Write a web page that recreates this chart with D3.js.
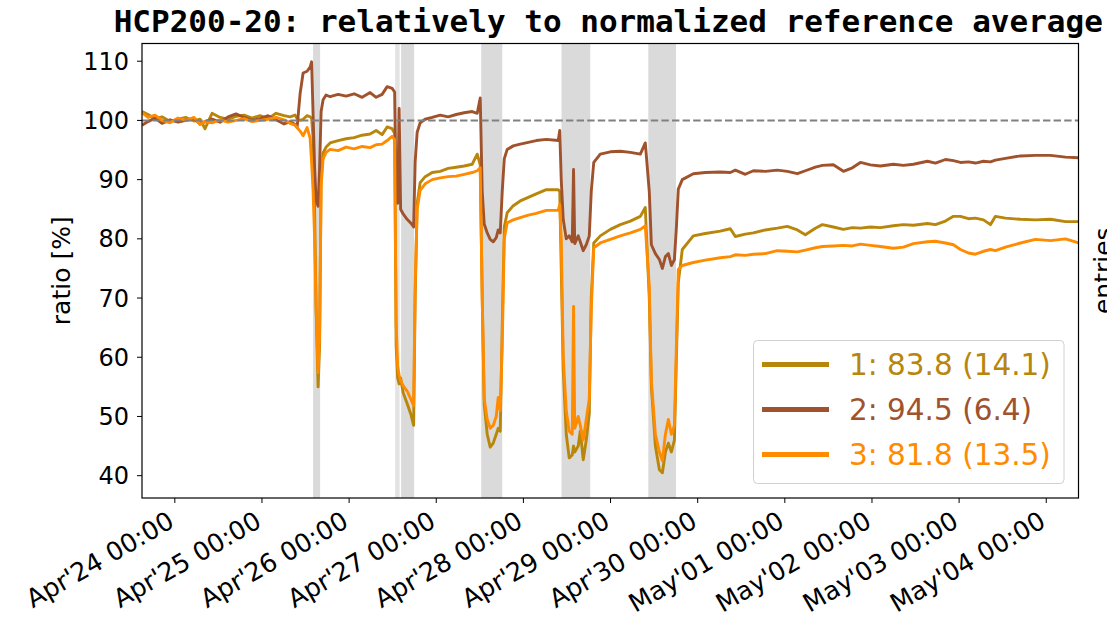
<!DOCTYPE html>
<html><head><meta charset="utf-8">
<script src="https://cdn.jsdelivr.net/npm/d3@7"></script>
<style>body{margin:0;background:#fff}svg{display:block}</style>
</head><body>
<svg id="c" width="1107" height="619"></svg>
<script>
// hours since Apr 24 00:00
const hours = [-9.04,-7.38,-5.46,-3.53,-1.32,0.88,3.09,5.29,6.94,8.32,10.25,12.46,14.66,16.86,19.07,21.27,23.48,25.68,27.89,30.09,31.74,33.12,
 33.67,34.50,35.33,36.43,37.26,37.67,38.08,38.50,38.91,39.46,39.87,40.29,40.84,41.66,
 42.77,44.97,47.18,49.38,51.58,53.79,55.44,57.09,58.47,59.85,
 60.54,60.95,61.37,61.78,62.19,62.88,63.98,65.09,65.77,66.19,66.74,67.57,
 68.95,70.88,73.08,75.29,77.49,79.70,81.90,83.28,84.11,
 84.66,85.21,86.04,86.86,87.69,88.52,89.07,89.62,90.17,90.73,91.54,
 93.21,95.13,97.34,99.54,102.30,105.60,106.01,
 106.42,106.97,107.80,108.62,109.45,109.81,110.14,111.10,111.66,112.48,113.31,114.14,114.69,115.38,
 117.17,119.95,122.70,125.46,128.21,129.57,
 130.67,131.25,132.35,133.45,134.28,135.11,135.93,136.76,137.59,138.14,138.66,
 139.76,142.79,146.10,150.23,152.99,154.37,157.12,159.33,162.63,165.94,168.70,171.45,173.66,176.41,178.34,181.37,184.13,186.61,188.81,191.57,194.32,197.91,200.66,203.42,207.28,209.48,212.23,214.44,216.37,218.57,220.50,222.71,224.63,226.01,228.77,232.90,237.04,241.17,245.30,248.88];

const series1 = [101.5,101.0,100.3,100.6,99.8,100.2,100.5,99.9,100.2,98.6,101.2,100.5,100.2,100.7,100.9,100.4,100.8,100.3,101.2,100.8,100.6,100.9,
 100.3,100.0,100.2,100.8,100.6,100.4,97,85,68,55,62,90,94.5,95.5,
 96.2,96.6,96.9,97.1,97.5,97.7,98.3,97.6,98.9,98.6,
 97.8,62,56.5,55.5,56.5,54,52.2,50.2,48.5,70,86,89.5,
 90.5,91.2,91.4,91.9,92.1,92.3,92.6,94.3,92.5,
 70,52,47,44.8,45.5,47,48,47.5,65,82,84.4,
 85.6,86.4,87.0,87.6,88.3,88.3,88.0,
 75,58,47,43,43.5,45,44,45,47.5,42.7,46,50.5,70,79.3,
 80.5,81.6,82.4,83.0,83.8,85.3,
 70,55,45,41,40.5,44,45.5,44,46,60,72.6,
 78.2,80.5,80.9,81.3,81.7,80.4,80.8,81.0,81.5,81.8,82.1,81.5,80.7,81.8,82.4,82.0,81.6,81.9,81.8,82.0,81.9,82.2,82.4,82.3,82.6,82.4,83.0,83.8,83.8,83.4,83.5,83.2,82.4,83.8,83.5,83.3,83.2,83.3,82.9,82.9];

const series2 = [99.2,99.8,100.4,99.5,100.1,99.7,100.0,100.3,99.4,99.8,100.2,99.7,100.6,101.1,100.5,100.0,100.3,100.8,100.1,99.4,99.8,99.3,
 98.8,104.5,108.0,108.3,109.0,109.9,101,92,86.5,85.5,92,101.5,103.5,104.3,
 104.0,104.4,104.1,104.5,103.9,104.7,103.9,104.4,105.7,105.4,
 104.8,87,86,102,85,84.2,83.3,82.6,82,93,98,99.6,
 100.2,100.5,100.9,100.6,101.0,101.3,101.5,101.2,103.8,
 88,82.5,81,79.9,79.5,80.2,81.5,81,88,93.5,95.1,
 95.7,96.0,96.3,96.6,96.8,96.6,98.3,
 90,83.3,80,80.5,79.5,91.7,79.2,80.5,79.5,78,79,80.5,88,92.9,
 94.3,94.7,94.8,94.6,94.3,96.2,
 88,79,77.5,76.5,75,77,77.5,75.5,76.5,82,88.4,
 90.0,91.0,91.2,91.3,91.2,91.6,90.9,91.5,91.4,91.6,91.4,91.0,91.5,92.1,92.4,92.5,91.4,92.0,92.9,92.5,92.3,92.6,92.4,92.6,93.1,92.8,93.4,93.2,92.9,93.0,92.8,93.1,93.0,93.3,93.6,94.0,94.1,94.1,93.8,93.7];

const series3 = [101.3,100.5,100.9,100.0,99.6,100.4,100.0,100.5,99.3,99.8,99.6,100.1,99.7,100.0,100.3,99.8,100.0,100.2,100.5,100.1,99.5,99.2,
 98.8,98.2,97.4,98.8,97.0,93,88,80,68.6,57.4,64,89,93.5,94.6,
 95.1,94.9,95.5,95.2,95.6,95.4,95.9,96.0,96.6,97.3,
 96.8,66,58.5,57,56,55.2,54.3,52.8,51.8,72,85,88.2,
 89.3,90.0,90.3,90.5,90.6,90.9,91.2,91.5,92.0,
 70,53,49.5,48,48.5,50,53.2,51,62,80,82.7,
 83.2,83.6,84.0,84.3,84.8,84.8,85.8,
 80,60,51,47.5,47,68.6,48,50,48.5,46,49.5,53,68,78.5,
 79.3,79.9,80.5,81.0,81.6,82.2,
 72,56,47,44,42.5,47,49.5,47,48.5,62,74.8,
 75.5,76.0,76.4,76.8,77.0,77.3,77.2,77.4,77.5,78.0,77.9,77.8,78.1,78.5,78.7,78.8,78.9,78.8,79.1,78.9,78.7,78.4,78.6,79.2,79.5,79.6,79.3,79.0,78.2,77.6,77.4,77.9,78.2,78.0,78.6,79.3,79.9,79.7,80.0,79.3];

const seriesNames = ["1: 83.8 (14.1)", "2: 94.5 (6.4)", "3: 81.8 (13.5)"];
const seriesColors = ["#b8860b", "#a0522d", "#ff8c00"];
// shaded intervals [start, end] hours since Apr 24 00:00
const bandStart = [38.08, 60.68, 62.33, 84.38, 106.50, 130.40];
const bandEnd   = [40.01, 61.92, 65.91, 90.17, 114.41, 138.02];
const yTicks = [40, 50, 60, 70, 80, 90, 100, 110];
const refLine = 100;

const T0 = Date.UTC(2018, 3, 24);
const toDate = h => new Date(T0 + h * 3600e3);

const svg = d3.select("#c");
const L = 142, R = 1078.5, T = 43.5, B = 498;
const x = d3.scaleUtc().domain([toDate(hours[0]), toDate(hours[hours.length - 1])]).range([L, R]);
const y = d3.scaleLinear().domain([36.23, 112.99]).range([B, T]);

svg.append("defs").append("clipPath").attr("id", "pa")
  .append("rect").attr("x", L).attr("y", T).attr("width", R - L).attr("height", B - T);

const g = svg.append("g").attr("clip-path", "url(#pa)");
// bands
g.selectAll("rect.band").data(bandStart.map((s, i) => [s, bandEnd[i]])).join("rect")
  .attr("class", "band")
  .attr("x", d => x(toDate(d[0]))).attr("width", d => x(toDate(d[1])) - x(toDate(d[0])))
  .attr("y", T).attr("height", B - T)
  .attr("fill", "#808080").attr("opacity", (d, i) => i === 1 ? 0.22 : 0.29);

const allSeries = [series1, series2, series3];
const line = d3.line().x((d, i) => x(toDate(hours[i]))).y(d => y(d));
allSeries.forEach((s, k) => {
  g.append("path").datum(s).attr("d", line).attr("fill", "none")
    .attr("stroke", seriesColors[k]).attr("stroke-width", 2.9)
    .attr("stroke-linejoin", "round");
});
// reference line
g.append("line").attr("x1", L).attr("x2", R).attr("y1", y(refLine)).attr("y2", y(refLine))
  .attr("stroke", "#808080").attr("stroke-width", 2).attr("stroke-dasharray", "7.4,3.2");

// axes
const fmt = d3.utcFormat("%b'%d %H:%M");
const xTicks = d3.utcDay.range(toDate(0), toDate(hours[hours.length - 1]));
const xa = svg.append("g").attr("transform", `translate(0,${B})`);
xa.selectAll("line").data(xTicks).join("line")
  .attr("x1", d => x(d)).attr("x2", d => x(d)).attr("y1", 0).attr("y2", 5)
  .attr("stroke", "#000").attr("stroke-width", 1);
xa.selectAll("text").data(xTicks).join("text")
  .attr("transform", d => `translate(${x(d) + 1},${28}) rotate(-30)`)
  .attr("text-anchor", "end")
  .attr("font-family", "DejaVu Sans").attr("font-size", 25.5).attr("fill", "#000")
  .text(d => fmt(d));

const ya = svg.append("g");
ya.selectAll("line").data(yTicks).join("line")
  .attr("x1", L - 5).attr("x2", L).attr("y1", d => y(d)).attr("y2", d => y(d))
  .attr("stroke", "#000").attr("stroke-width", 1);
ya.selectAll("text").data(yTicks).join("text")
  .attr("x", L - 13).attr("y", d => y(d)).attr("dy", "0.36em")
  .attr("text-anchor", "end")
  .attr("font-family", "DejaVu Sans").attr("font-size", 24).attr("fill", "#000")
  .text(d => d);

svg.append("rect").attr("x", L).attr("y", T).attr("width", R - L).attr("height", B - T)
  .attr("fill", "none").attr("stroke", "#000").attr("stroke-width", 1.2);

svg.append("text").attr("transform", `translate(70,${(T + B) / 2}) rotate(-90)`)
  .attr("text-anchor", "middle").attr("font-family", "DejaVu Sans").attr("font-size", 25)
  .text("ratio [%]");
svg.append("text").attr("transform", `translate(1112,${(T + B) / 2}) rotate(-90)`)
  .attr("text-anchor", "middle").attr("font-family", "DejaVu Sans").attr("font-size", 25)
  .text("entries");

svg.append("text").attr("x", (L + R) / 2 - 2).attr("y", 32)
  .attr("text-anchor", "middle").attr("font-family", "DejaVu Sans Mono").attr("font-weight", "bold")
  .attr("font-size", 31).text("HCP200-20: relatively to normalized reference average");

// legend
const lg = svg.append("g");
lg.append("rect").attr("x", 753.5).attr("y", 340.5).attr("width", 310.5).attr("height", 143)
  .attr("rx", 4).attr("fill", "#fff").attr("fill-opacity", 0.85).attr("stroke", "#d0d0d0").attr("stroke-width", 1);
seriesNames.forEach((n, k) => {
  const cy = 364.5 + k * 45;
  lg.append("line").attr("x1", 762).attr("x2", 829).attr("y1", cy).attr("y2", cy)
    .attr("stroke", seriesColors[k]).attr("stroke-width", 5);
  lg.append("text").attr("x", 849).attr("y", cy + 10.5)
    .attr("font-family", "DejaVu Sans").attr("font-size", 29.5).attr("fill", seriesColors[k]).text(n);
});
</script>
</body></html>
